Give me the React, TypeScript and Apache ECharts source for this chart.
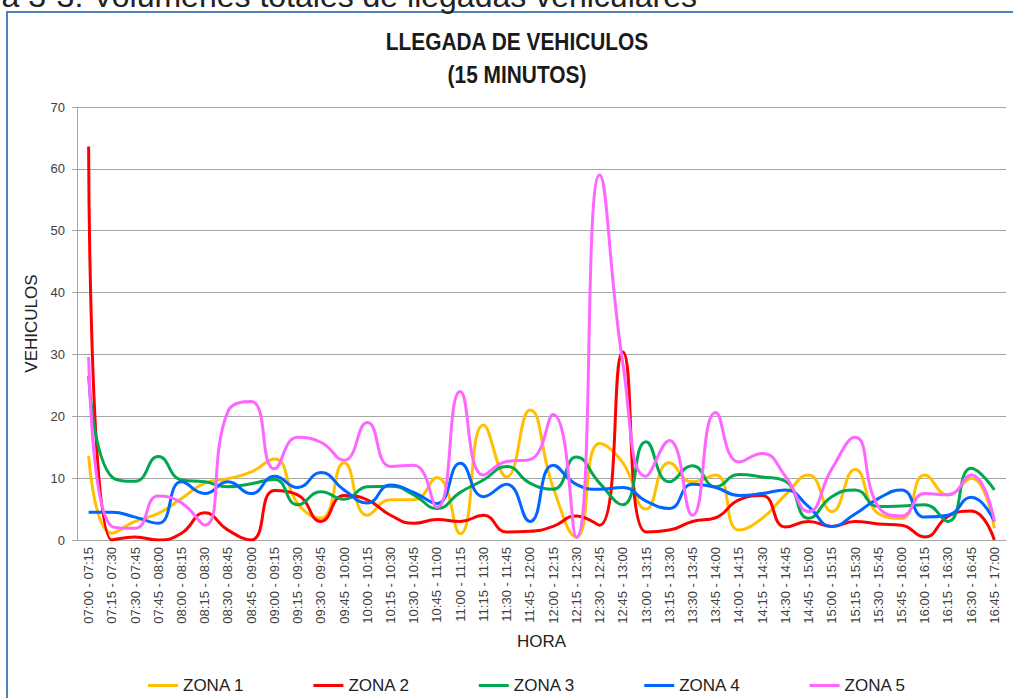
import React, { useEffect, useRef } from "react";
import * as echarts from "echarts";

const categories = [
  "07:00 - 07:15", "07:15 - 07:30", "07:30 - 07:45", "07:45 - 08:00",
  "08:00 - 08:15", "08:15 - 08:30", "08:30 - 08:45", "08:45 - 09:00",
  "09:00 - 09:15", "09:15 - 09:30", "09:30 - 09:45", "09:45 - 10:00",
  "10:00 - 10:15", "10:15 - 10:30", "10:30 - 10:45", "10:45 - 11:00",
  "11:00 - 11:15", "11:15 - 11:30", "11:30 - 11:45", "11:45 - 12:00",
  "12:00 - 12:15", "12:15 - 12:30", "12:30 - 12:45", "12:45 - 13:00",
  "13:00 - 13:15", "13:15 - 13:30", "13:30 - 13:45", "13:45 - 14:00",
  "14:00 - 14:15", "14:15 - 14:30", "14:30 - 14:45", "14:45 - 15:00",
  "15:00 - 15:15", "15:15 - 15:30", "15:30 - 15:45", "15:45 - 16:00",
  "16:00 - 16:15", "16:15 - 16:30", "16:30 - 16:45", "16:45 - 17:00",
];

const zona1 = [13.6, 1.1, 3, 4.3, 6.7, 9.2, 9.9, 11, 13.1, 5.9, 3.5, 12.5, 4, 6.5, 6.5, 10.1, 1, 18.6, 10.2, 21, 8.5, 0.5, 15.6, 12.5, 5, 12.5, 9.4, 10.5, 1.6, 3.5, 7.3, 10.5, 4.6, 11.4, 4.3, 3.5, 10.5, 7.3, 10, 1.9];
const zona2 = [63.6, 0, 0.5, 0, 1.1, 4.4, 1.6, 0, 8, 7.3, 3, 7.2, 6.5, 4, 2.7, 3.3, 3, 4, 1.3, 1.4, 2.2, 3.9, 2.4, 30.4, 1.3, 1.6, 3, 3.6, 6.5, 7.2, 2.1, 3, 2.2, 3, 2.6, 2.4, 0.5, 3.8, 4.7, 0];
const zona3 = [26.5, 10.2, 9.5, 13.5, 9.7, 9.4, 8.6, 9.1, 9.8, 5.7, 7.8, 6.6, 8.6, 8.7, 7.3, 5.1, 7.7, 9.7, 11.9, 9.2, 8.2, 13.4, 9.2, 5.7, 15.9, 9.4, 12, 8.6, 10.6, 10.2, 9.5, 3.5, 7, 8.1, 5.4, 5.5, 5.7, 3, 11.6, 8.1];
const zona4 = [4.5, 4.5, 3.7, 2.7, 9.4, 7.5, 9.4, 7.5, 10.3, 8.5, 10.9, 8.1, 6, 8.9, 7.7, 5.9, 12.4, 7, 9, 3, 12.1, 9, 8.2, 8.5, 6.3, 5.1, 9, 8.5, 7.2, 7.5, 8.1, 5.4, 2.2, 4.2, 6.7, 8.1, 3.7, 4, 6.9, 3];
const zona5 = [29.6, 2.2, 1.9, 7.1, 6, 2.4, 20.8, 22.4, 11.5, 16.6, 15.8, 12.9, 19, 11.9, 12.1, 5.3, 24, 10.5, 12.7, 13, 20.3, 0.4, 59, 28.6, 10.3, 16.1, 4, 20.6, 12.6, 14, 10.3, 4.6, 11.5, 16.6, 5.4, 3.9, 7.5, 7.3, 10.5, 3];

const seriesNames = ["ZONA 1", "ZONA 2", "ZONA 3", "ZONA 4", "ZONA 5"];
const seriesData = [zona1, zona2, zona3, zona4, zona5];
const seriesColors = ["#FFC000", "#FF0000", "#00A84F", "#0066FF", "#FF66FF"];

const titleLines = ["LLEGADA DE VEHICULOS", "(15 MINUTOS)"];
const captionText = "Figura 3-3: Volúmenes totales de llegadas vehiculares";

const yTicks = { min: 0, max: 70, interval: 10 };

export default function App() {
  const ref = useRef<HTMLDivElement>(null);

  useEffect(() => {
    if (!ref.current) return;
    const chart = echarts.init(ref.current, undefined, { renderer: "svg" });
    const font = "'Liberation Sans', Arial, sans-serif";
    const titleFont = "bold 24px 'Liberation Sans', Arial, sans-serif";
    chart.setOption({
      animation: false,
      backgroundColor: "#ffffff",
      graphic: [
        {
          type: "rect",
          silent: true,
          z: -10,
          shape: { x: 7, y: 12, width: 1030, height: 720 },
          style: { fill: "none", stroke: "#4F81BD", lineWidth: 2 },
        },
        {
          type: "text",
          silent: true,
          x: 697,
          y: -4,
          style: {
            text: captionText,
            font: "32px 'Liberation Sans', Arial, sans-serif",
            fill: "#222222",
            align: "right",
            verticalAlign: "middle",
          },
        },
        {
          type: "text",
          silent: true,
          x: 517,
          y: 42,
          scaleX: 0.87,
          style: {
            text: titleLines[0],
            font: titleFont,
            fill: "#1a1a1a",
            align: "center",
            verticalAlign: "middle",
          },
        },
        {
          type: "text",
          silent: true,
          x: 517,
          y: 75,
          scaleX: 0.87,
          style: {
            text: titleLines[1],
            font: titleFont,
            fill: "#1a1a1a",
            align: "center",
            verticalAlign: "middle",
          },
        },
      ],
      legend: {
        data: seriesNames,
        left: 143,
        top: 672,
        icon: "rect",
        itemWidth: 30,
        itemHeight: 3,
        itemGap: 69,
        textStyle: { fontFamily: font, fontSize: 17, color: "#222222" },
      },
      grid: { left: 77, right: 7, top: 107, bottom: 158, containLabel: false },
      xAxis: {
        type: "category",
        data: categories,
        boundaryGap: true,
        name: "HORA",
        nameLocation: "middle",
        nameGap: 93,
        nameTextStyle: { fontFamily: font, fontSize: 17, color: "#222222" },
        axisLine: { lineStyle: { color: "#A6A6A6", width: 1 } },
        axisTick: { show: false },
        axisLabel: {
          interval: 0,
          rotate: 90,
          margin: 7,
          fontFamily: font,
          fontSize: 13,
          color: "#404040",
        },
      },
      yAxis: {
        type: "value",
        min: yTicks.min,
        max: yTicks.max,
        interval: yTicks.interval,
        name: "VEHICULOS",
        nameLocation: "middle",
        nameGap: 31,
        nameTextStyle: { fontFamily: font, fontSize: 17, color: "#222222" },
        axisLine: { show: true, lineStyle: { color: "#A6A6A6", width: 1 } },
        axisTick: { show: true, length: 5, lineStyle: { color: "#A6A6A6" } },
        splitLine: { lineStyle: { color: "#A6A6A6", width: 1 } },
        axisLabel: { fontFamily: font, fontSize: 13, color: "#404040", margin: 12 },
      },
      series: seriesNames.map((name, i) => ({
        name,
        type: "line",
        data: seriesData[i],
        smooth: 0.5,
        showSymbol: false,
        symbol: "none",
        clip: true,
        color: seriesColors[i],
        lineStyle: { color: seriesColors[i], width: 3 },
      })),
    });
    return () => chart.dispose();
  }, []);

  return (
    <div
      ref={ref}
      style={{ position: "absolute", left: 0, top: 0, width: 1013, height: 698 }}
    />
  );
}
